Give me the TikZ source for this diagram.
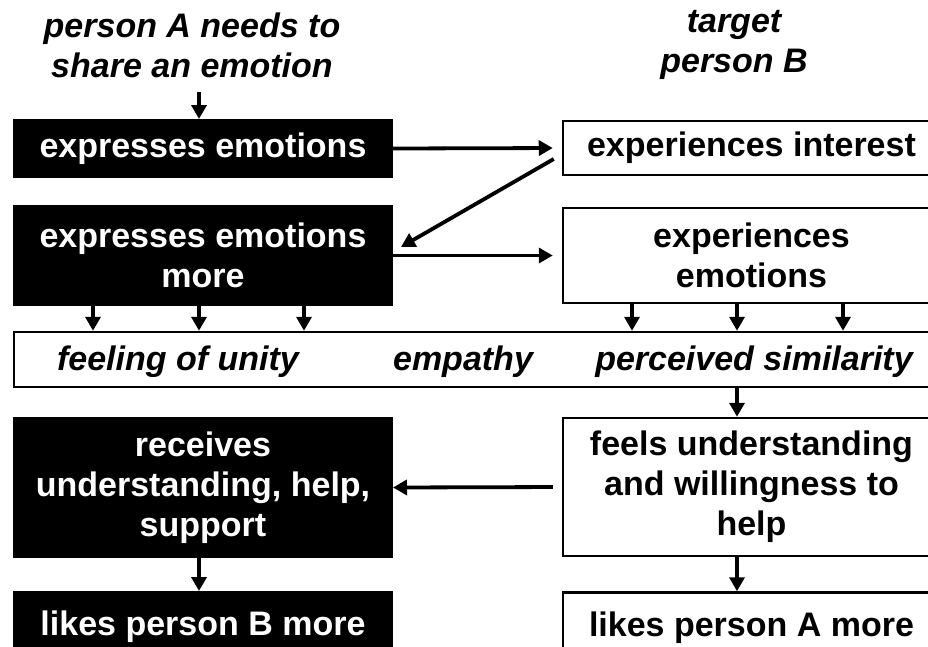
\documentclass[tikz,border=0pt]{standalone}
\usepackage{fontspec}
\setmainfont{Liberation Sans}
\usetikzlibrary{arrows.meta}
\begin{document}
\begin{tikzpicture}[x=1pt,y=-1pt,
 every node/.style={font=\fontsize{34}{40}\selectfont\bfseries, align=center, inner sep=0pt},
 blackbox/.style={draw=black, fill=black, text=white, line width=2pt, minimum width=378pt},
 whitebox/.style={draw=black, fill=white, line width=2.5pt, minimum width=377pt},
 lbl/.style={font=\fontsize{34}{40}\selectfont\bfseries\itshape},
 arr/.style={line width=3.8pt, -{Triangle[length=14pt,width=15pt]}}
]
\useasboundingbox (0,0) rectangle (928,646);
\clip (0,0) rectangle (928,646);
\fill[white] (0,0) rectangle (928,646);

\node[lbl] (tA) at (192,45) {person A needs to\\share an emotion};
\node[lbl] (tB) at (734,45) {target\\person B};

\node[blackbox, minimum height=57pt] (b1) at (203,148.5) {expresses emotions};
\node[whitebox, minimum height=54pt] (w1) at (751.5,148) {experiences interest};
\node[blackbox, minimum height=99pt] (b2) at (203,255.5) {expresses emotions\\more};
\node[whitebox, minimum height=95pt] (w2) at (751.5,255.5) {experiences\\emotions};

\node[draw, line width=2.5pt, minimum width=926pt, minimum height=55pt] (u) at (477,359.5) {};
\node[lbl] (u1) at (178,362) {feeling of unity};
\node[lbl] (u2) at (463,362) {empathy};
\node[lbl] (u3) at (754,362) {perceived similarity};

\node[blackbox, minimum height=139pt] (b3) at (203,487.5) {receives\\understanding, help,\\support};
\node[whitebox, minimum height=138pt] (w3) at (751.5,487) {feels understanding\\and willingness to\\help};
\node[blackbox, minimum height=70pt] (b4) at (203,627) {likes person B more};
\node[whitebox, minimum height=70pt] (w4) at (751.5,627.5) {likes person A more};

\coordinate (tAs) at (199,92);
\draw[arr] (tAs) -- (tAs |- b1.north);
\draw[arr, shorten >=9pt] (b1.east) -- (w1.west);
\draw[arr, shorten >=0pt] ([xshift=-8pt,yshift=-11pt]w1.west) -- ([xshift=8pt,yshift=8.5pt]b2.east);
\draw[arr, shorten >=9pt] (b2.east) -- (w2.west);
\foreach \x in {93,199,304} \draw[arr] (b2.south -| \x,0) -- (u.north -| \x,0);
\foreach \x in {632,737,843} \draw[arr] (w2.south -| \x,0) -- (u.north -| \x,0);
\draw[arr] (u.south -| 737,0) -- (w3.north -| 737,0);
\draw[arr, shorten <=9pt] (w3.west) -- (b3.east);
\draw[arr] (b3.south -| 199,0) -- (b4.north -| 199,0);
\draw[arr] (w3.south -| 737,0) -- (w4.north -| 737,0);
\end{tikzpicture}
\end{document}
